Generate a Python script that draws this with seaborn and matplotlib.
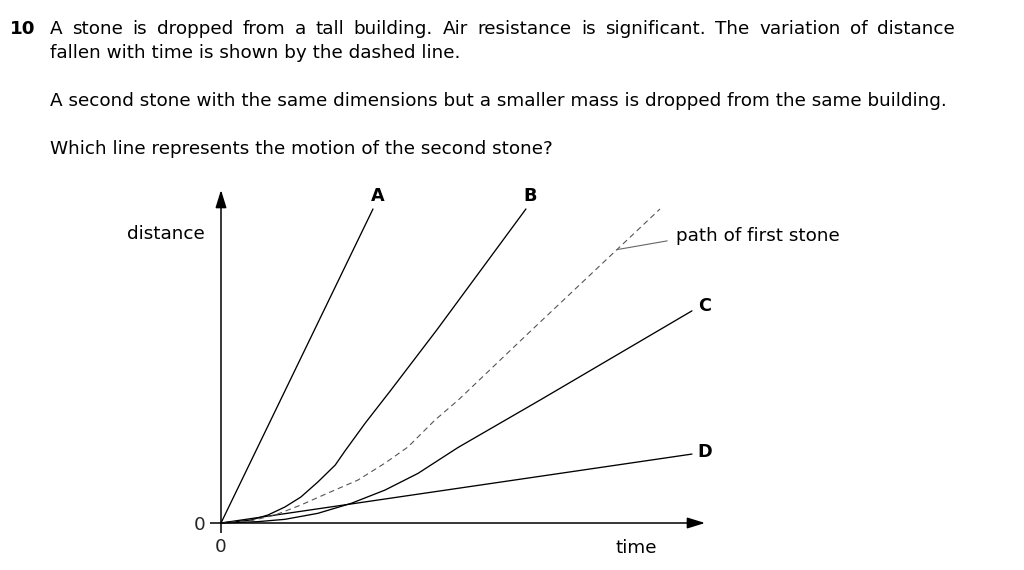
import numpy as np
import pandas as pd
import matplotlib
matplotlib.use('Agg')
import matplotlib.pyplot as plt
import seaborn as sns

# values (time / distance in arbitrary units)
time_a = [0, 3.14]
dist_a = [0, 9.43]
time_b = [0, 0.62, 0.97, 1.32, 1.65, 2.00, 2.36, 2.56, 2.98, 3.51, 4.46, 6.30]
dist_b = [0, 0.09, 0.24, 0.48, 0.78, 1.23, 1.74, 2.16, 3.00, 3.99, 5.80, 9.43]
time_first = [0, 0.62, 1.12, 1.65, 2.21, 2.83, 3.39, 3.86, 4.42, 4.90, 6.38, 9.07]
dist_first = [0, 0.07, 0.24, 0.54, 0.90, 1.29, 1.80, 2.28, 3.09, 3.69, 5.74, 9.43]
time_c = [0, 0.76, 1.32, 2.00, 2.69, 3.39, 4.07, 4.90, 6.59, 9.73]
dist_c = [0, 0.04, 0.11, 0.29, 0.59, 0.99, 1.49, 2.27, 3.69, 6.37]
time_d = [0, 9.73]
dist_d = [0, 2.07]

line_labels = ['A', 'B', 'C', 'D']
question_lines = [
    'A stone is dropped from a tall building. Air resistance is significant. The variation of distance',
    'fallen with time is shown by the dashed line.',
    'A second stone with the same dimensions but a smaller mass is dropped from the same building.',
    'Which line represents the motion of the second stone?',
]

sns.set_theme(style='white')
plt.rcParams['font.family'] = ['DejaVu Sans']
fs = 13.2

fig = plt.figure(figsize=(10.24, 5.70), dpi=100)
W, H = 1024, 570

# question text
fig.text(10 / W, 1 - 33.5 / H, '10', fontsize=fs, fontweight='bold', color='black')
baselines = [33.5, 57.5, 106.5, 153.5]
# first line is justified between x=50 and x=955
words = question_lines[0].split(' ')
word_txt = [fig.text(0, 1 - baselines[0] / H, w, fontsize=fs, color='black') for w in words]
renderer = fig.canvas.get_renderer()
widths = [t.get_window_extent(renderer).width for t in word_txt]
gap = (955 - 50 - sum(widths)) / (len(words) - 1)
x = 50
for t, w in zip(word_txt, widths):
    t.set_x(x / W)
    x += w + gap
for txt, yb in zip(question_lines[1:], baselines[1:]):
    fig.text(50 / W, 1 - yb / H, txt, fontsize=fs, color='black')

ax = fig.add_axes([221 / W, 47 / H, 484 / W, 333 / H])
ax.set_xlim(0, 10)
ax.set_ylim(0, 10)
for s in ax.spines.values():
    s.set_visible(False)

# axes with arrows
arrow = dict(arrowstyle='-|>,head_length=0.9,head_width=0.28', color='black',
             lw=1.1, shrinkA=0, shrinkB=0, mutation_scale=12)
ax.annotate('', xy=(1, 0), xytext=(0, 0), xycoords='axes fraction', arrowprops=arrow)
ax.annotate('', xy=(0, 1), xytext=(0, 0), xycoords='axes fraction', arrowprops=arrow)

ax.set_xticks([0])
ax.set_yticks([0])
ax.set_xticklabels(['0'])
ax.set_yticklabels(['0'])
ax.tick_params(axis='x', length=7, width=1.1, color='black', pad=3.5, labelsize=fs, direction='out', bottom=True)
ax.tick_params(axis='y', length=8, width=1.1, color='black', pad=3, labelsize=fs, direction='out', left=True)
ax.set_xlabel('')
ax.set_ylabel('')

solid = dict(color='black', lw=0.95, sort=False, estimator=None, clip_on=False)
sns.lineplot(x=time_a, y=dist_a, ax=ax, **solid)
sns.lineplot(x=time_b, y=dist_b, ax=ax, **solid)
sns.lineplot(x=time_c, y=dist_c, ax=ax, **solid)
sns.lineplot(x=time_d, y=dist_d, ax=ax, **solid)
sns.lineplot(x=time_first, y=dist_first, ax=ax, color='#555555', lw=0.8,
             linestyle=(0, (5, 3.5)), sort=False, estimator=None, clip_on=False)

# line labels
ends = [(time_a[-1], dist_a[-1]), (time_b[-1], dist_b[-1]),
        (time_c[-1], dist_c[-1]), (time_d[-1], dist_d[-1])]
offsets = [(3.6, 9.4), (2.9, 9.4), (9.4, 3.6), (9.4, 1.4)]
for lab, (x, y), off in zip(line_labels, ends, offsets):
    ax.annotate(lab, xy=(x, y), xytext=off, textcoords='offset points',
                ha='center', va='center', fontsize=fs - 0.5, fontweight='bold',
                color='black', annotation_clip=False)

# leader to the dashed line
t_lead = 8.18
ax.annotate('path of first stone', xy=(t_lead, np.interp(t_lead, time_first, dist_first)),
            xytext=(42.5, 10), textcoords='offset points', ha='left', va='center',
            fontsize=fs, color='black', annotation_clip=False,
            arrowprops=dict(arrowstyle='-', color='#666666', lw=0.8,
                            relpos=(0, 0.3), shrinkA=4, shrinkB=0))

ax.text(-0.033, 0.868, 'distance', transform=ax.transAxes, ha='right', va='center',
        fontsize=fs, color='black')
ax.text(0.857, -0.075, 'time', transform=ax.transAxes, ha='center', va='center',
        fontsize=fs, color='black')

fig.savefig('out.png', dpi=100)
